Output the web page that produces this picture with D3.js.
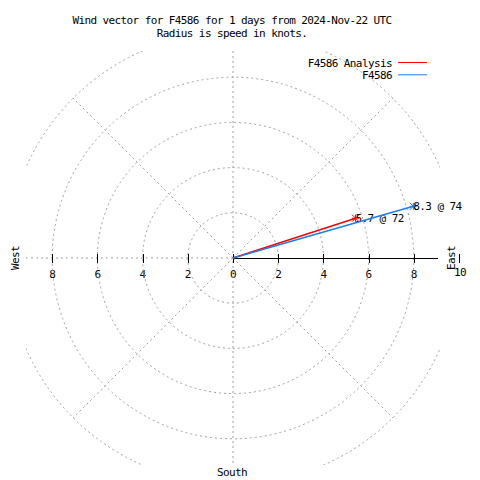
<!DOCTYPE html>
<html><head><meta charset="utf-8">
<script src="https://cdn.jsdelivr.net/npm/d3@7"></script>
<style>
body{margin:0;background:#fff;}
text{font-family:"DejaVu Sans Mono",monospace;font-size:11px;letter-spacing:-0.6px;fill:#000;}
</style></head><body>
<script>
const titleLines = ["Wind vector for F4586 for 1 days from 2024-Nov-22 UTC", "Radius is speed in knots."];
const seriesNames = ["F4586 Analysis", "F4586"];
const speeds = [5.7, 8.3];
const directions = [72, 74];
const seriesColors = ["#ff0000", "#1c7ee8"];
const ringValues = [2, 4, 6, 8, 10];
const eastTicks = [0, 2, 4, 6, 8, 10];
const westTicks = [2, 4, 6, 8];
const diagonalAngles = [45, 135, 225, 315];
const compassLabels = ["West", "East", "South"];

const W = 480, H = 480;
const cx = 233, cy = 258;
const r = d3.scaleLinear().domain([0, 10]).range([0, 226]);
const xE = d3.scaleLinear().domain([0, 10]).range([cx, cx + r(10)]);
const xW = d3.scaleLinear().domain([0, 10]).range([cx, cx - r(10)]);
const clip = {x0: 26, x1: 440, y0: 51, y1: 465};

const svg = d3.select("body").append("svg").attr("width", W).attr("height", H);
svg.append("defs").append("clipPath").attr("id", "plotclip")
  .append("rect").attr("x", clip.x0).attr("y", clip.y0)
  .attr("width", clip.x1 - clip.x0).attr("height", clip.y1 - clip.y0);

// Title
svg.selectAll("text.title").data(titleLines).join("text").attr("class", "title")
  .attr("x", 232).attr("y", (d, i) => 24 + i * 13).attr("text-anchor", "middle").text(d => d);

// tick labels (under grid)
svg.selectAll("text.et").data(eastTicks).join("text").attr("class", "et")
  .attr("x", d => xE(d) + (d === 10 ? 1 : 0)).attr("y", d => d === 10 ? 276 : 278)
  .attr("text-anchor", "middle").text(d => d);
svg.selectAll("text.wt").data(westTicks).join("text").attr("class", "wt")
  .attr("x", d => xW(d)).attr("y", 278).attr("text-anchor", "middle").text(d => d);

// Grid
const grid = svg.append("g").attr("clip-path", "url(#plotclip)")
  .attr("fill", "none").attr("stroke", "#a0a0a0").attr("stroke-width", 1).attr("stroke-dasharray", "2,3");
grid.selectAll("circle").data(ringValues).join("circle")
  .attr("cx", cx).attr("cy", cy).attr("r", d => r(d));
grid.selectAll("line.diag").data(diagonalAngles).join("line").attr("class", "diag")
  .attr("x1", cx).attr("y1", cy)
  .attr("x2", d => cx + r(10) * Math.sin(d * Math.PI / 180))
  .attr("y2", d => cy - r(10) * Math.cos(d * Math.PI / 180));
grid.append("line").attr("x1", cx).attr("x2", cx).attr("y1", clip.y0).attr("y2", clip.y1);
grid.append("line").attr("x1", clip.x0).attr("x2", cx).attr("y1", cy).attr("y2", cy);

// East axis (solid)
svg.append("line").attr("x1", cx).attr("x2", clip.x1 - 2).attr("y1", cy + 0.5).attr("y2", cy + 0.5)
  .attr("stroke", "#000").attr("stroke-width", 1);
svg.selectAll("line.etk").data(eastTicks).join("line").attr("class", "etk")
  .attr("x1", d => Math.round(xE(d)) + 0.5).attr("x2", d => Math.round(xE(d)) + 0.5)
  .attr("y1", cy - 4).attr("y2", cy + 5).attr("stroke", "#000");
svg.selectAll("line.wtk").data(westTicks).join("line").attr("class", "wtk")
  .attr("x1", d => Math.round(xW(d)) + 0.5).attr("x2", d => Math.round(xW(d)) + 0.5)
  .attr("y1", cy - 4).attr("y2", cy + 5).attr("stroke", "#000");

// compass labels
svg.append("text").attr("transform", `translate(19,${cy}) rotate(-90)`).attr("text-anchor", "middle").text(compassLabels[0]);
svg.append("text").attr("transform", `translate(455,${cy}) rotate(-90)`).attr("text-anchor", "middle").text(compassLabels[1]);
svg.append("text").attr("x", 232).attr("y", 476).attr("text-anchor", "middle").text(compassLabels[2]);

// Vectors
const pts = speeds.map((s, i) => {
  const a = directions[i] * Math.PI / 180;
  return {name: seriesNames[i], s, dir: directions[i], color: seriesColors[i],
    x: cx + r(s) * Math.sin(a), y: cy - r(s) * Math.cos(a)};
});
const vec = svg.append("g");
pts.forEach(p => {
  vec.append("line").attr("x1", cx).attr("y1", cy).attr("x2", p.x).attr("y2", p.y)
    .attr("stroke", p.color).attr("stroke-width", 1.5);
  const m = 3.5;
  const star = vec.append("g").attr("stroke", p.color).attr("stroke-width", 1);
  star.append("line").attr("x1", p.x - m).attr("x2", p.x + m).attr("y1", p.y).attr("y2", p.y);
  star.append("line").attr("x1", p.x).attr("x2", p.x).attr("y1", p.y - m).attr("y2", p.y + m);
  star.append("line").attr("x1", p.x - m).attr("x2", p.x + m).attr("y1", p.y - m).attr("y2", p.y + m);
  star.append("line").attr("x1", p.x - m).attr("x2", p.x + m).attr("y1", p.y + m).attr("y2", p.y - m);
  vec.append("text").attr("x", p.x).attr("y", p.y + 3.5).text(`${p.s} @ ${p.dir}`);
});

// Legend
const leg = svg.append("g");
seriesNames.forEach((n, i) => {
  const y = 62.5 + i * 12.3;
  leg.append("text").attr("x", 392).attr("y", y + 4.5).attr("text-anchor", "end").text(n);
  leg.append("line").attr("x1", 398).attr("x2", 427).attr("y1", y).attr("y2", y)
    .attr("stroke", seriesColors[i]).attr("stroke-width", 1);
});
</script>
</body></html>
